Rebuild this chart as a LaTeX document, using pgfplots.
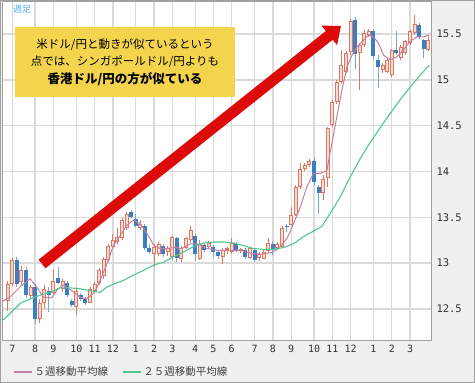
\documentclass[border=0pt]{standalone}
\usepackage{pgfplots}
\pgfplotsset{compat=1.18}
\usepackage{pgfplotstable}
\usepackage{fontspec}
\usetikzlibrary{arrows.meta}
\newfontfamily\jp{Noto Sans CJK JP}
\newfontfamily\mono{DejaVu Sans Mono}
\definecolor{upc}{HTML}{E2755E}
\definecolor{upfill}{HTML}{F9DCD3}
\definecolor{dnc}{HTML}{3A7FC1}
\definecolor{dnw}{HTML}{6FA8DA}
\definecolor{mafive}{HTML}{C47FA6}
\definecolor{matwf}{HTML}{4FC98E}
\definecolor{gridc}{HTML}{DADADA}
\definecolor{panel}{HTML}{F0F0F0}
\definecolor{bord}{HTML}{A0A0A0}
\definecolor{boxy}{HTML}{F4D44D}
\definecolor{arrowred}{HTML}{DD0A0A}
\definecolor{lblue}{HTML}{4AB0F0}

\pgfplotstableread{
k o h l c
-1 12.59 12.81 12.48 12.77
0 12.77 13.06 12.75 13.03
2 12.79 12.97 12.76 12.92
4 12.64 12.76 12.61 12.74
6 12.39 12.61 12.35 12.57
7 12.57 12.76 12.50 12.72
9 12.67 12.93 12.65 12.81
11 12.72 12.83 12.68 12.81
14 12.52 12.74 12.43 12.70
17 12.57 12.74 12.56 12.72
18 12.70 12.79 12.68 12.77
19 12.78 12.95 12.76 12.92
20 12.86 13.07 12.83 13.05
21 13.03 13.21 13.01 13.19
22 13.18 13.32 13.16 13.25
23 13.23 13.38 13.21 13.28
24 13.27 13.49 13.25 13.47
25 13.38 13.56 13.36 13.54
28 13.38 13.47 13.36 13.43
31 13.10 13.21 12.96 13.18
32 13.10 13.23 13.08 13.21
34 13.12 13.19 13.08 13.17
35 13.07 13.30 13.03 13.29
37 13.05 13.19 13.01 13.17
38 13.17 13.29 13.15 13.27
39 13.25 13.40 13.22 13.36
41 13.05 13.25 13.03 13.21
43 13.18 13.24 13.15 13.22
46 13.07 13.16 12.99 13.14
47 13.14 13.18 13.10 13.16
48 13.12 13.27 13.10 13.22
50 13.13 13.17 13.11 13.15
52 13.06 13.18 13.04 13.16
54 13.06 13.12 13.02 13.10
55 13.05 13.14 13.04 13.12
56 13.13 13.27 13.11 13.22
58 13.16 13.23 13.14 13.21
59 13.18 13.41 13.16 13.38
61 13.42 13.61 13.40 13.53
62 13.53 13.85 13.51 13.83
63 13.83 14.09 13.81 14.03
64 14.03 14.09 14.01 14.07
65 14.07 14.14 14.05 14.11
68 13.77 13.96 13.69 13.92
69 13.93 14.49 13.83 14.47
70 14.51 14.78 14.49 14.76
71 14.76 15.00 14.74 14.98
72 14.98 15.33 14.96 15.16
73 15.09 15.31 15.07 15.29
74 15.30 15.66 15.27 15.64
76 15.29 15.40 14.89 15.38
77 15.38 15.54 15.36 15.51
78 15.49 15.55 15.47 15.53
81 15.11 15.18 15.07 15.16
82 15.09 15.24 15.07 15.22
83 15.05 15.34 15.03 15.33
85 15.24 15.38 15.22 15.36
86 15.29 15.44 15.27 15.42
87 15.40 15.54 15.38 15.53
88 15.51 15.71 15.49 15.61
91 15.33 15.49 15.31 15.44
}\up

\pgfplotstableread{
k o h l c
1 13.03 13.07 12.74 12.77
3 12.92 12.96 12.62 12.65
5 12.74 12.77 12.34 12.39
8 12.70 12.74 12.47 12.65
10 12.84 12.96 12.77 12.78
12 12.78 12.81 12.63 12.65
13 12.59 12.61 12.52 12.54
15 12.65 12.67 12.59 12.61
16 12.61 12.63 12.54 12.56
26 13.56 13.58 13.49 13.50
27 13.48 13.54 13.39 13.41
29 13.41 13.43 13.14 13.16
30 13.16 13.21 13.10 13.12
33 13.19 13.21 13.07 13.10
36 13.27 13.29 13.01 13.06
40 13.30 13.32 13.02 13.10
42 13.20 13.22 13.12 13.14
44 13.18 13.20 13.07 13.12
45 13.12 13.14 13.05 13.08
49 13.21 13.23 13.12 13.14
51 13.14 13.16 13.05 13.07
53 13.14 13.16 13.01 13.03
57 13.21 13.24 13.09 13.14
60 13.41 13.43 13.34 13.39
66 14.12 14.15 13.84 13.88
67 13.83 13.85 13.54 13.76
75 15.65 15.69 15.12 15.28
79 15.53 15.55 15.22 15.26
80 15.22 15.27 14.91 15.14
84 15.33 15.53 15.27 15.29
89 15.60 15.62 15.45 15.47
90 15.44 15.45 15.24 15.34
}\down

\pgfplotstableread{
k v
-2.25 12.58
-0.5 12.63
1.7 12.74
3.9 12.83
5.3 12.74
6.8 12.63
8.6 12.62
10 12.72
11.2 12.76
13 12.70
14.8 12.63
16.2 12.61
18 12.68
19.2 12.81
20.7 12.99
22.1 13.19
23.6 13.30
25 13.41
26.5 13.47
28 13.43
29.5 13.32
31 13.19
32.3 13.16
33.8 13.16
35.6 13.17
37.1 13.16
38.9 13.21
40.4 13.21
42.6 13.16
44.8 13.14
47 13.14
49.5 13.14
50.6 13.13
52.7 13.10
54.9 13.10
57.1 13.12
58.6 13.18
60.1 13.27
61.5 13.43
63 13.61
64.4 13.83
65.9 13.98
67.3 13.98
68.8 14.01
69.5 14.20
71 14.60
72.1 14.89
73.2 15.14
74.3 15.27
75.4 15.36
76.8 15.43
77.9 15.49
79 15.47
80.1 15.40
81.2 15.27
82.6 15.22
84.1 15.25
85.6 15.33
87 15.42
88.5 15.47
90 15.47
91.2 15.49
}\mafivetab

\pgfplotstableread{
k v
-2.25 12.37
-0.5 12.45
1.7 12.56
3.9 12.61
6.1 12.65
8.3 12.68
10.4 12.73
12.6 12.73
14.8 12.72
17 12.70
19.2 12.68
20.7 12.74
22.1 12.77
24.3 12.81
26.5 12.87
28.7 12.92
31 12.98
33.1 13.01
35.3 13.07
37.4 13.12
39.6 13.18
41.8 13.22
44 13.23
46.2 13.23
48.4 13.22
50.6 13.19
52.7 13.16
54.9 13.15
57.1 13.15
59.3 13.17
61.5 13.21
63.7 13.29
65.9 13.35
67.7 13.40
69.5 13.54
71.7 13.72
73.9 13.94
76.1 14.14
78.3 14.32
80.5 14.48
82.6 14.63
84.8 14.78
87 14.92
89.2 15.05
91.2 15.16
}\matwftab

\begin{document}
\begin{tikzpicture}[x=1pt,y=1pt]
\path[use as bounding box] (0,0) rectangle (475,383);
\fill[panel] (0,0) rectangle (475,383);
\begin{axis}[
  at={(2pt,42pt)}, anchor=south west, scale only axis,
  width=430pt, height=339pt,
  xmin=-2.25, xmax=91.8, ymin=12.15, ymax=15.85,
  axis background/.style={fill=white},
  axis line style={bord, line width=1pt},
  grid=major, major grid style={gridc, line width=1.3pt},
  major tick length=0pt,
  xtick={0,5,9,14,18,22,27,31,35,40,44,48,53,57,61,66,70,74,79,83,87},
  xticklabels={7,8,9,10,11,12,1,2,3,4,5,6,7,8,9,10,11,12,1,2,3},
  ytick={12.5,13,13.5,14,14.5,15,15.5},
  yticklabel pos=right,
  /pgf/number format/assume math mode=true,
  yticklabel style={font=\mono\fontsize{10.5}{12}\selectfont, anchor=west, xshift=1pt, text=black!80},
  xticklabel style={font=\mono\fontsize{10}{12}\selectfont, anchor=north, yshift=-1pt, text=black!80},
  legend style={at={(axis description cs:0,0)}, anchor=west, xshift=8pt, yshift=-31pt,
    draw=none, fill=none, legend columns=2,
    font=\jp\fontsize{10.5}{12}\selectfont, text=black!75,
    /tikz/every even column/.append style={column sep=12pt}},
  legend image code/.code={\draw[#1, line width=1.4pt] (0pt,0pt) -- (18pt,0pt);},
]
% up wicks
\addplot[draw=none, mark=none, forget plot, error bars/.cd, y dir=both, y explicit, error mark=none,
  error bar style={draw=upc, line width=1pt}]
  table[x=k, y=c, y error plus expr=\thisrow{h}-\thisrow{c}, y error minus expr=\thisrow{c}-\thisrow{l}] {\up};
% down wicks
\addplot[draw=none, mark=none, forget plot, error bars/.cd, y dir=both, y explicit, error mark=none,
  error bar style={draw=dnw, line width=1pt}]
  table[x=k, y=c, y error plus expr=\thisrow{h}-\thisrow{c}, y error minus expr=\thisrow{c}-\thisrow{l}] {\down};
% up bodies outline
\addplot[draw=none, mark=none, forget plot, error bars/.cd, y dir=minus, y explicit, error mark=none,
  error bar style={draw=upc, line width=4pt}]
  table[x=k, y=c, y error minus expr=\thisrow{c}-\thisrow{o}] {\up};
% up bodies fill
\addplot[draw=none, mark=none, forget plot, error bars/.cd, y dir=minus, y explicit, error mark=none,
  error bar style={draw=upfill, line width=2pt}]
  table[x=k, y expr=\thisrow{c}-0.011, y error minus expr={max(\thisrow{c}-\thisrow{o}-0.022,0)}] {\up};
% down bodies
\addplot[draw=none, mark=none, forget plot, error bars/.cd, y dir=plus, y explicit, error mark=none,
  error bar style={draw=dnc, line width=4pt}]
  table[x=k, y=c, y error plus expr=\thisrow{o}-\thisrow{c}] {\down};
% moving averages
\addplot[mafive, line width=1pt, mark=none] table[x=k, y=v] {\mafivetab};
\addlegendentry{５週移動平均線}
\addplot[matwf, line width=1.1pt, mark=none] table[x=k, y=v] {\matwftab};
\addlegendentry{２５週移動平均線}
\end{axis}
\draw[bord, line width=1pt] (0.5,0.5) rectangle (474.5,382.5);
\node[text=lblue, font=\jp\fontsize{9}{10}\selectfont] at (22,374) {週足};
\fill[boxy] (15,286) rectangle (235,356);
\node[font=\jp\fontsize{11.5}{13}\selectfont] at (125,338) {米ドル/円と動きが似ているという};
\node[font=\jp\fontsize{11.5}{13}\selectfont] at (125,321) {点では、シンガポールドル/円よりも};
\node[font=\jp\bfseries\fontsize{12.5}{14}\selectfont] at (125,304) {香港ドル/円の方が似ている};
\draw[arrowred, line width=11pt, -{Triangle[length=15pt,width=24pt]}] (42,119) -- (341,357);
\end{tikzpicture}
\end{document}
